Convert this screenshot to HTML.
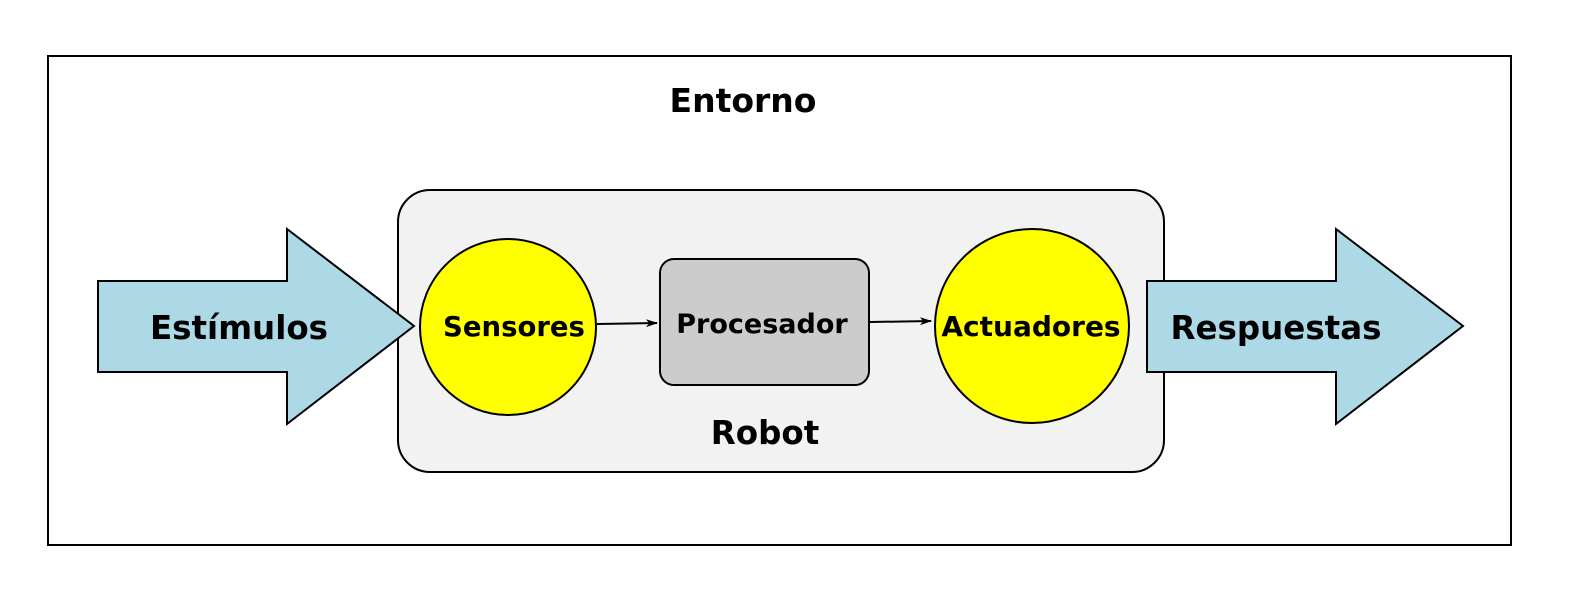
<!DOCTYPE html>
<html><head><meta charset="utf-8"><style>html,body{margin:0;padding:0;background:#fff}svg{display:block}</style></head>
<body>
<svg width="1572" height="610" viewBox="0 0 1572 610" xmlns="http://www.w3.org/2000/svg" font-family="'DejaVu Sans', 'Liberation Sans', sans-serif" font-weight="bold">
<defs><marker id="a" markerWidth="12" markerHeight="8" refX="11" refY="4" orient="auto" markerUnits="userSpaceOnUse"><path d="M0,0 L12,4 L0,8 L3,4 Z" fill="#000"/></marker></defs>
<rect x="48" y="56" width="1463" height="489" fill="#fff" stroke="#000" stroke-width="2"/>
<text x="743" y="112" font-size="33" text-anchor="middle">Entorno</text>
<rect x="398" y="190" width="766" height="282" rx="32" fill="#f2f2f2" stroke="#000" stroke-width="2"/>
<polygon points="98,281 287,281 287,229 414,326 287,424 287,372 98,372" fill="#add8e6" stroke="#000" stroke-width="2"/>
<polygon points="1147,281 1336,281 1336,229 1463,326 1336,424 1336,372 1147,372" fill="#add8e6" stroke="#000" stroke-width="2"/>
<text x="239" y="339" font-size="32.5" text-anchor="middle">Estímulos</text>
<text x="1276" y="339" font-size="32.5" text-anchor="middle">Respuestas</text>
<circle cx="508" cy="327" r="88" fill="#ff0" stroke="#000" stroke-width="2"/>
<text x="514" y="336" font-size="27.5" text-anchor="middle">Sensores</text>
<rect x="660" y="259" width="209" height="126" rx="14" fill="#ccc" stroke="#000" stroke-width="2"/>
<text x="762" y="333" font-size="27" text-anchor="middle">Procesador</text>
<circle cx="1032" cy="326" r="97" fill="#ff0" stroke="#000" stroke-width="2"/>
<text x="1031" y="336" font-size="28" text-anchor="middle">Actuadores</text>
<text x="765" y="444" font-size="32.5" text-anchor="middle">Robot</text>
<line x1="597" y1="324" x2="657" y2="323" stroke="#000" stroke-width="2" marker-end="url(#a)"/>
<line x1="870" y1="322" x2="931" y2="321" stroke="#000" stroke-width="2" marker-end="url(#a)"/>
</svg>
</body></html>
